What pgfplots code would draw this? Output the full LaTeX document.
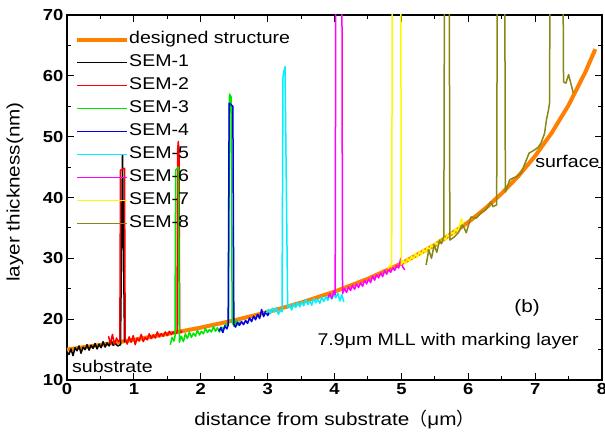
\documentclass[border=0pt]{standalone}
\usepackage{fontspec}
\setmainfont{Liberation Sans}[FakeStretch=1.15]
\newfontfamily\cjk{Noto Sans CJK SC}
\usepackage{pgfplots}
\pgfplotsset{compat=1.18}
\definecolor{dsorange}{RGB}{255,128,0}
\definecolor{semgreen}{RGB}{0,230,0}
\definecolor{semblue}{RGB}{0,0,230}
\definecolor{semcyan}{RGB}{0,240,255}
\definecolor{semmag}{RGB}{255,0,255}
\definecolor{semyel}{RGB}{255,250,0}
\definecolor{semolive}{RGB}{135,135,20}
\begin{document}
\begin{tikzpicture}
\useasboundingbox (-67pt,-55pt) rectangle (538pt,380pt);
\begin{axis}[
  at={(0pt,0pt)}, anchor=south west,
  scale only axis, width=535pt, height=365pt,
  xmin=0, xmax=8, ymin=10, ymax=70,
  xtick={0,1,...,8}, ytick={10,20,...,70},
  minor x tick num=1, minor y tick num=1,
  tick align=inside, xtick pos=both, ytick pos=both,
  major tick length=7pt, minor tick length=4pt,
  every tick/.style={line width=1pt, black},
  axis line style={line width=1.2pt},
  /pgf/number format/assume math mode=true,
  tick label style={font=\bfseries\fontsize{16}{16}\selectfont},
  label style={font=\fontsize{18}{18}\selectfont},
  xlabel={distance from substrate{\cjk （}μm{\cjk ）}},
  ylabel={layer thickness(nm)},
  xlabel style={at={(axis description cs:0.5,-0.1096)}, anchor=center},
  ylabel style={at={(axis description cs:-0.0972,0.515)}, anchor=center},
  legend style={draw=none, fill=none, at={(axis description cs:0.015,0.955)}, anchor=north west,
    font=\fontsize{17}{17}\selectfont, inner sep=0pt, column sep=0pt, row sep=7pt,
    nodes={inner sep=0pt, text height=12pt, text depth=4pt}},
  legend cell align=left,
  legend image code/.code={\draw[#1] (0pt,0pt) -- (50pt,0pt);},
  every axis plot/.append style={line width=1.5pt, line join=round},
]
\addplot[dsorange, line width=4pt] coordinates {
(0,15.00) (0.5,15.77) (1,16.61) (1.5,17.56) (2,18.61) (2.5,19.81) (3,21.16) (3.5,22.72)
(4,24.52) (4.5,26.64) (5,29.15) (5.5,32.19) (6,35.93) (6.25,38.15) (6.5,40.66) (6.75,43.52)
(7,46.82) (7.25,50.66) (7.5,55.18) (7.75,60.59) (7.9,64.38)};
\addlegendentry{designed structure}
\addplot[black] coordinates {
(0.00,14.6) (0.03,14.2) (0.06,15.1) (0.09,14.0) (0.12,15.3) (0.15,14.8) (0.18,15.6) (0.21,14.4)
(0.24,15.4) (0.27,15.0) (0.30,15.8) (0.33,14.9) (0.36,15.7) (0.39,15.2) (0.42,16.0) (0.45,15.1)
(0.48,15.9) (0.51,15.3) (0.54,16.3) (0.57,15.4) (0.60,16.1) (0.63,15.6) (0.66,16.5) (0.69,15.7)
(0.72,16.0) (0.76,15.6) (0.80,15.8) (0.83,47.0) (0.86,16.2)};
\addlegendentry{SEM-1}
\addplot[red] coordinates {
(0.62,17.2) (0.65,16.0) (0.68,17.5) (0.71,15.8) (0.74,16.9) (0.77,16.3) (0.79,16.5) (0.80,44.5)
(0.86,44.8) (0.87,16.8) (0.90,15.9) (0.93,17.1) (0.96,16.2) (0.99,17.3) (1.02,15.8) (1.05,16.9)
(1.08,16.4) (1.11,17.5) (1.14,16.3) (1.17,17.0) (1.20,16.6) (1.23,17.6) (1.26,16.8) (1.29,17.4)
(1.32,16.9) (1.35,17.9) (1.38,17.1) (1.41,17.6) (1.44,17.2) (1.47,17.9) (1.50,17.3) (1.53,18.0)
(1.56,17.5) (1.59,17.9) (1.62,17.6) (1.645,17.8) (1.655,48.0) (1.665,49.2) (1.675,47.0)
(1.685,18.0) (1.70,17.8) (1.72,18.1)};
\addlegendentry{SEM-2}
\addplot[semgreen] coordinates {
(1.545,15.8) (1.57,17.0) (1.60,16.4) (1.615,17.2) (1.625,44.5) (1.665,45.0) (1.68,16.2)
(1.71,17.2) (1.74,16.3) (1.77,17.6) (1.80,16.8) (1.83,17.9) (1.86,17.0) (1.89,17.7) (1.92,17.2)
(1.95,18.2) (1.98,17.4) (2.01,18.0) (2.04,17.6) (2.07,18.5) (2.10,17.8) (2.13,18.3) (2.16,17.9)
(2.19,18.8) (2.22,18.0) (2.25,18.6) (2.28,17.9) (2.31,18.7) (2.34,18.3) (2.37,19.2) (2.40,18.9)
(2.415,19.3) (2.43,57.0) (2.455,56.5) (2.47,19.5) (2.50,18.8) (2.53,19.9) (2.56,19.0) (2.59,19.6)};
\addlegendentry{SEM-3}
\addplot[semblue] coordinates {
(2.27,18.0) (2.30,18.6) (2.33,17.8) (2.36,18.9) (2.39,18.4) (2.41,19.0) (2.425,55.5) (2.48,55.0)
(2.495,19.2) (2.52,18.7) (2.55,19.5) (2.58,19.0) (2.61,19.6) (2.64,19.1) (2.67,19.8) (2.70,19.3)
(2.73,20.2) (2.76,19.6) (2.79,20.5) (2.82,19.9) (2.85,20.8) (2.88,20.1) (2.91,21.6) (2.94,20.4)
(2.97,21.3) (3.00,20.6) (3.03,21.1)};
\addlegendentry{SEM-4}
\addplot[semcyan] coordinates {
(2.98,21.0) (3.01,21.6) (3.04,20.9) (3.07,21.8) (3.10,21.2) (3.13,21.9) (3.16,20.8) (3.19,21.5)
(3.215,21.2) (3.23,60.0) (3.26,61.5) (3.30,21.8) (3.33,22.4) (3.36,21.5) (3.39,22.6) (3.42,21.9)
(3.45,22.8) (3.48,22.0) (3.51,22.9) (3.54,22.2) (3.57,23.2) (3.60,22.4) (3.63,23.0) (3.66,22.3)
(3.69,23.4) (3.72,22.7) (3.75,23.3) (3.78,22.6) (3.81,23.6) (3.84,22.9) (3.87,23.7) (3.90,23.1)
(3.93,23.9) (3.96,23.3) (3.99,24.1) (4.02,23.5) (4.05,24.3) (4.08,23.0) (4.11,24.0) (4.14,22.8)};
\addlegendentry{SEM-5}
\addplot[semmag] coordinates {
(3.90,23.5) (3.93,24.2) (3.96,23.4) (3.99,24.6) (4.01,24.0) (4.02,80) (4.11,80) (4.12,24.2)
(4.15,25.0) (4.18,24.4) (4.21,25.3) (4.24,24.7) (4.27,25.6) (4.30,24.9) (4.33,25.8) (4.36,25.2)
(4.39,26.0) (4.42,25.4) (4.45,26.4) (4.48,25.8) (4.51,26.6) (4.54,26.0) (4.57,27.1) (4.60,26.4)
(4.63,27.3) (4.66,26.8) (4.69,27.6) (4.72,27.0) (4.75,28.0) (4.78,27.4) (4.81,28.2) (4.84,27.7)
(4.87,28.5) (4.90,28.0) (4.93,28.8) (4.96,28.4) (4.99,30.0) (5.02,28.6) (5.05,28.1)};
\addlegendentry{SEM-6}
\addplot[semyel] coordinates {
(4.80,28.3) (4.83,28.9) (4.855,28.6) (4.865,80) (4.99,80) (5.00,29.0) (5.03,29.6) (5.06,29.1)
(5.09,30.0) (5.12,29.5) (5.15,30.3) (5.18,29.9) (5.21,30.8) (5.24,30.2) (5.27,31.1) (5.30,30.6)
(5.33,31.4) (5.36,31.0) (5.39,31.9) (5.42,31.3) (5.45,32.2) (5.48,31.8) (5.51,32.6) (5.54,32.2)
(5.57,33.1) (5.60,32.6) (5.63,33.5) (5.66,33.0) (5.69,33.9) (5.72,33.5) (5.75,34.3) (5.78,34.0)
(5.81,34.9) (5.84,34.4) (5.87,35.4) (5.90,36.5) (5.93,35.2)};
\addlegendentry{SEM-7}
\addplot[semolive] coordinates {
(5.37,28.9) (5.41,31.4) (5.45,30.0) (5.49,32.2) (5.53,31.0) (5.57,33.0) (5.60,32.4) (5.635,33.6)
(5.645,80) (5.715,80) (5.725,33.0) (5.79,33.5) (5.85,34.2) (5.92,35.5) (5.97,34.2) (6.04,36.8)
(6.12,36.6) (6.19,37.5) (6.25,37.9) (6.30,38.5) (6.34,39.3) (6.37,38.5) (6.425,38.8) (6.435,80)
(6.545,80) (6.555,40.9) (6.62,42.9) (6.67,43.2) (6.72,43.4) (6.79,44.0) (6.87,46.2) (6.91,47.3)
(6.99,47.8) (7.05,48.3) (7.09,49.0) (7.14,50.5) (7.17,52.8) (7.20,54.4) (7.215,55.5) (7.225,80)
(7.415,80) (7.425,59.0) (7.46,58.8) (7.50,60.2) (7.57,57.2)};
\addlegendentry{SEM-8}
\node[anchor=base west, inner sep=0pt, font=\fontsize{17}{17}\selectfont] at (axis cs:7.0,44.85) {surface};
\node[anchor=base west, inner sep=0pt, font=\fontsize{17}{17}\selectfont] at (axis cs:0.075,11.3) {substrate};
\node[anchor=center, inner sep=0pt, font=\fontsize{18}{18}\selectfont] at (axis cs:6.88,21.84) {(b)};
\node[anchor=base, inner sep=0pt, font=\fontsize{17}{17}\selectfont] at (axis cs:5.70,15.6) {7.9μm MLL with marking layer};
\end{axis}
\end{tikzpicture}
\end{document}
